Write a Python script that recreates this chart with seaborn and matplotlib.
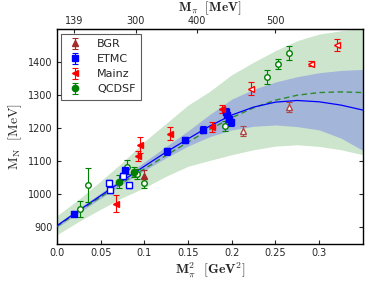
import numpy as np
import pandas as pd
import matplotlib
matplotlib.use("Agg")
import matplotlib.pyplot as plt
import seaborn as sns

# ---- curves ----
curve_x = [0.0, 0.025, 0.05, 0.075, 0.1, 0.125, 0.15, 0.175, 0.2, 0.225, 0.25, 0.275, 0.3, 0.325, 0.35]
blue_mid = [905, 951, 996, 1041, 1085, 1128, 1168, 1207, 1240, 1264, 1279, 1284, 1280, 1270, 1255]
blue_hi = [911, 958, 1004, 1051, 1098, 1145, 1192, 1242, 1288, 1318, 1340, 1356, 1368, 1375, 1378]
blue_lo = [899, 944, 988, 1031, 1072, 1111, 1146, 1175, 1195, 1206, 1210, 1205, 1195, 1170, 1133]
green_mid = [903, 948, 992, 1035, 1077, 1118, 1158, 1197, 1232, 1262, 1285, 1300, 1308, 1310, 1308]
green_hi = [935, 985, 1040, 1097, 1160, 1215, 1270, 1312, 1362, 1400, 1435, 1465, 1485, 1495, 1502]
green_lo = [878, 918, 955, 990, 1020, 1055, 1085, 1103, 1120, 1135, 1146, 1150, 1145, 1135, 1120]

# ---- lattice data ----
bgr_x = [0.100]
bgr_y = [1055]
bgr_e = [20]
bgr_open_x = [0.213, 0.265]
bgr_open_y = [1193, 1263]
bgr_open_e = [15, 15]

etmc_x = [0.0199, 0.078, 0.1256, 0.1466, 0.167, 0.193, 0.195, 0.197, 0.199]
etmc_y = [942, 1073, 1130, 1165, 1196, 1250, 1240, 1228, 1218]
etmc_e = [8, 10, 10, 10, 10, 10, 10, 10, 10]
etmc_open_x = [0.060, 0.061, 0.076, 0.0825]
etmc_open_y = [1034, 1013, 1057, 1027]
etmc_open_e = [8, 8, 8, 8]

mainz_x = [0.068, 0.0924, 0.095, 0.129, 0.177, 0.1886]
mainz_y = [972, 1115, 1150, 1183, 1203, 1258]
mainz_e = [25, 15, 25, 20, 15, 12]
mainz_open_x = [0.222, 0.291, 0.320]
mainz_open_y = [1320, 1395, 1452]
mainz_open_e = [20, 8, 18]

qcdsf_x = [0.0714, 0.0886]
qcdsf_y = [1038, 1067]
qcdsf_e = [20, 15]
qcdsf_open_x = [0.026, 0.035, 0.080, 0.0916, 0.0993, 0.192, 0.240, 0.253, 0.265]
qcdsf_open_y = [955, 1028, 1083, 1062, 1035, 1208, 1355, 1393, 1427]
qcdsf_open_e = [24, 52, 20, 15, 15, 15, 22, 15, 22]

top_ticks_mev = [139, 300, 400, 500]

sns.set_style("ticks")
plt.rcParams['mathtext.fontset'] = 'cm'
plt.rcParams['font.family'] = ['DejaVu Sans']

fig = plt.figure(figsize=(3.82, 2.88), dpi=100)
ax = fig.add_axes([0.149, 0.153, 0.801, 0.746])

# bands
ax.fill_between(curve_x, green_lo, green_hi, color='#cce5cc', lw=0, zorder=1)
ax.fill_between(curve_x, blue_lo, blue_hi, color='#a3b5d9', lw=0, zorder=2)

cdf = pd.DataFrame({'x': curve_x, 'blue': blue_mid, 'green': green_mid})
sns.lineplot(data=cdf, x='x', y='green', ax=ax, color='#2e8b2e', lw=1.0,
             linestyle=(0, (4, 2.5)), zorder=3)
sns.lineplot(data=cdf, x='x', y='blue', ax=ax, color='blue', lw=0.9, zorder=4)

ms = 4.5
kw = dict(ls='none', capsize=2, elinewidth=0.8, capthick=0.8, zorder=5)

ax.errorbar(bgr_open_x, bgr_open_y, yerr=bgr_open_e, fmt='^', color='#b04545',
            mfc='white', mec='#b04545', ms=ms, **kw)
ax.errorbar(etmc_open_x, etmc_open_y, yerr=etmc_open_e, fmt='s', color='blue',
            mfc='white', mec='blue', ms=ms, mew=1.0, **kw)
ax.errorbar(mainz_open_x, mainz_open_y, yerr=mainz_open_e, fmt='<', color='red',
            mfc='white', mec='red', ms=ms, **kw)
ax.errorbar(qcdsf_open_x, qcdsf_open_y, yerr=qcdsf_open_e, fmt='o', color='green',
            mfc='white', mec='green', ms=ms - 0.5, **kw)

ax.errorbar(bgr_x, bgr_y, yerr=bgr_e, fmt='^', color='#a52a2a', ms=ms, label='BGR', **kw)
ax.errorbar(etmc_x, etmc_y, yerr=etmc_e, fmt='s', color='blue', ms=ms, label='ETMC', **kw)
ax.errorbar(mainz_x, mainz_y, yerr=mainz_e, fmt='<', color='red', ms=ms, label='Mainz', **kw)
ax.errorbar(qcdsf_x, qcdsf_y, yerr=qcdsf_e, fmt='o', color='green', ms=ms, label='QCDSF', **kw)

ax.set_xlim(0, 0.35)
ax.set_ylim(850, 1500)
ax.set_xticks([0.0, 0.05, 0.1, 0.15, 0.2, 0.25, 0.3])
ax.set_xticklabels(['0.0', '0.05', '0.1', '0.15', '0.2', '0.25', '0.3'])
ax.set_yticks([900, 1000, 1100, 1200, 1300, 1400])
ax.tick_params(direction='in', length=3, width=0.8, labelsize=7, right=True, top=False, pad=3)
ax.tick_params(axis='y', labelsize=7)
for s in ax.spines.values():
    s.set_linewidth(1.0)
    s.set_color('black')

ax.set_xlabel(r'$\mathbf{M_\pi^2\ \ [GeV^2]}$', fontsize=10, labelpad=2)
ax.set_ylabel(r'$\mathrm{M_N\ \ [MeV]}$', fontsize=10, labelpad=3)

top = ax.secondary_xaxis('top')
top.set_xticks([(m / 1000.0) ** 2 for m in top_ticks_mev])
top.set_xticklabels([str(m) for m in top_ticks_mev])
top.tick_params(direction='in', length=3, width=0.8, labelsize=7, pad=2)
top.set_xlabel(r'$\mathbf{M_\pi\ \ [MeV]}$', fontsize=9.5, labelpad=3.5)

leg = ax.legend(loc='upper left', fontsize=8, frameon=True, fancybox=False,
                handlelength=1.5, handletextpad=1.2, borderpad=0.5,
                labelspacing=0.45, borderaxespad=0.4)
leg.get_frame().set_edgecolor('#333333')
leg.get_frame().set_linewidth(0.8)

fig.savefig('out.png', dpi=100)
